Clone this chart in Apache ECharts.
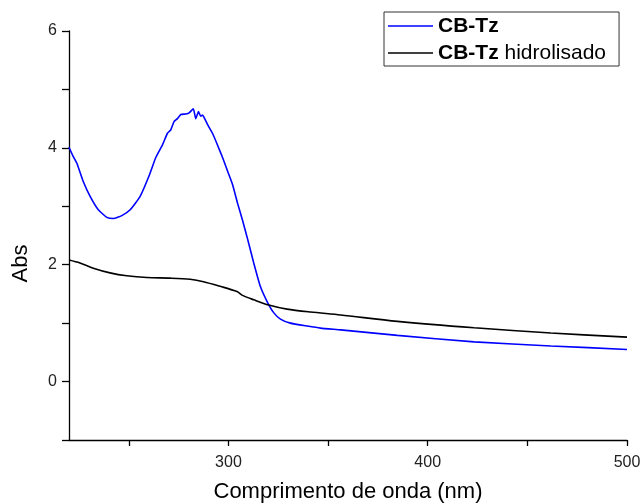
<!DOCTYPE html>
<html>
<head>
<meta charset="utf-8">
<script src="https://cdn.jsdelivr.net/npm/echarts@6/dist/echarts.min.js"></script>
<style>html,body{margin:0;padding:0;background:#fff}#c{width:641px;height:504px}</style>
</head>
<body>
<div id="c"></div>
<script>
// Wavelength (nm) and absorbance
const cbTzX = [220, 222, 223.9, 227.2, 230.6, 234.7, 239, 242.3, 246.5, 250.7, 255.7, 260.4, 263.5, 266.9, 269.4, 271.1, 272.7, 274.4, 276.1, 278.6, 280.3, 282.4, 283.6, 285, 286.1, 287, 289.5, 292, 294.5, 297.1, 299.6, 302.1, 304.6, 307, 309.3, 312.7, 316, 319.4, 322.7, 326.1, 331.1, 339.5, 346.2, 356.3, 384.8, 423.3, 461.8, 500];
const cbTzY = [4.01, 3.86, 3.74, 3.42, 3.17, 2.94, 2.81, 2.79, 2.84, 2.94, 3.17, 3.54, 3.83, 4.05, 4.25, 4.31, 4.45, 4.50, 4.57, 4.58, 4.60, 4.67, 4.50, 4.62, 4.54, 4.56, 4.40, 4.25, 4.05, 3.83, 3.60, 3.37, 3.05, 2.77, 2.48, 2.03, 1.63, 1.37, 1.18, 1.07, 1.00, 0.95, 0.915, 0.885, 0.79, 0.68, 0.61, 0.55];
const hidroX = [220, 225.5, 232.2, 240.6, 249, 259.1, 270.8, 280.8, 287.5, 295.9, 304.3, 306.8, 312.7, 320.2, 329.4, 341.2, 356.3, 384.8, 423.3, 461.8, 500];
const hidroY = [2.08, 2.03, 1.94, 1.86, 1.81, 1.78, 1.77, 1.75, 1.71, 1.63, 1.54, 1.48, 1.40, 1.31, 1.24, 1.19, 1.14, 1.03, 0.92, 0.83, 0.76];
const xTicks = [250, 300, 350, 400, 450, 500];
const xLabels = [300, 400, 500];
const yTicks = [-1, 0, 1, 2, 3, 4, 5, 6];
const yLabels = [0, 2, 4, 6];
const seriesNames = ['CB-Tz', 'CB-Tz hidrolisado'];

const zip = (xs, ys) => xs.map((x, i) => [x, ys[i]]);
const FONT = 'Liberation Sans';
const chart = echarts.init(document.getElementById('c'), null, {renderer: 'canvas'});
chart.setOption({
  animation: false,
  backgroundColor: '#fff',
  textStyle: {fontFamily: FONT},
  grid: {left: 69, right: 14, top: 31, bottom: 64, containLabel: false, outerBoundsMode: 'none'},
  legend: {
    left: 384, top: 12,
    orient: 'vertical',
    icon: 'rect',
    itemWidth: 45, itemHeight: 1.5,
    itemGap: 3,
    padding: [2, 13, 1, 4],
    borderColor: '#333', borderWidth: 1,
    data: seriesNames,
    formatter: n => n === 'CB-Tz' ? '{b|CB-Tz}' : '{b|CB-Tz} {n|hidrolisado}',
    textStyle: {
      fontFamily: FONT, fontSize: 21, color: '#000', lineHeight: 24,
      rich: {
        b: {fontFamily: FONT, fontSize: 21, fontWeight: 'bold', color: '#000', lineHeight: 24},
        n: {fontFamily: FONT, fontSize: 21, color: '#000', lineHeight: 24}
      }
    }
  },
  xAxis: {
    type: 'value', min: 220, max: 500,
    name: 'Comprimento de onda (nm)', nameLocation: 'middle', nameGap: 41,
    nameTextStyle: {fontFamily: FONT, fontSize: 22, color: '#000'},
    axisLine: {onZero: false, lineStyle: {color: '#000', width: 1.3}},
    axisTick: {show: true, length: 6, customValues: xTicks, lineStyle: {color: '#000', width: 1.3}},
    axisLabel: {customValues: xLabels, margin: 15, fontFamily: FONT, fontSize: 16, color: '#222'},
    splitLine: {show: false}
  },
  yAxis: {
    type: 'value', min: -1, max: 6,
    name: 'Abs', nameLocation: 'middle', nameGap: 37,
    nameTextStyle: {fontFamily: FONT, fontSize: 22, color: '#000', padding: [0, 56, 0, 0]},
    axisLine: {onZero: false, lineStyle: {color: '#000', width: 1.3}},
    axisTick: {show: true, length: 7, customValues: yTicks, lineStyle: {color: '#000', width: 1.3}},
    axisLabel: {customValues: yLabels, margin: 12, fontFamily: FONT, fontSize: 16, color: '#222'},
    splitLine: {show: false}
  },
  series: [
    {name: seriesNames[0], type: 'line', data: zip(cbTzX, cbTzY), symbol: 'none', smooth: 0.15,
     color: '#0000ff', lineStyle: {color: '#0000ff', width: 1.6}},
    {name: seriesNames[1], type: 'line', data: zip(hidroX, hidroY), symbol: 'none', smooth: 0.3,
     color: '#000000', lineStyle: {color: '#000000', width: 1.6}}
  ]
});
</script>
</body>
</html>
